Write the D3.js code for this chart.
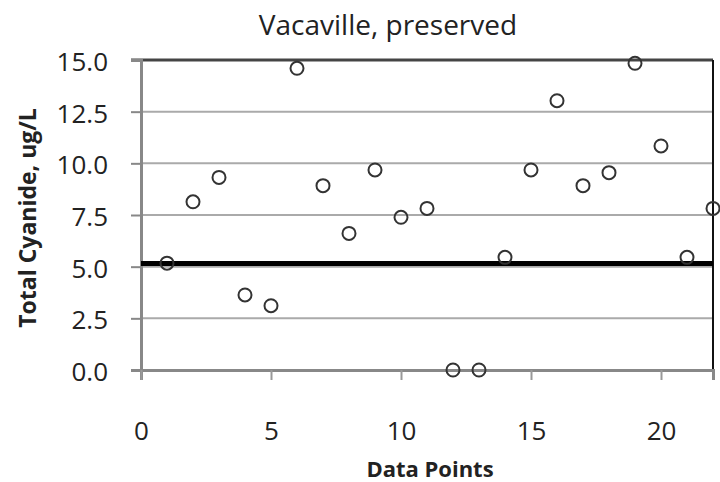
<!DOCTYPE html>
<html lang="en">
<head>
<meta charset="UTF-8">
<title>Vacaville, preserved</title>
<script src="https://d3js.org/d3.v7.min.js"></script>
<style>
  body { margin: 0; background: #fff; }
  text { font-family: "Open Sans", sans-serif; fill: #222; }
</style>
</head>
<body>
<div id="chart"></div>
<script>
// data
const dataPoints = [1, 2, 3, 4, 5, 6, 7, 8, 9, 10, 11, 12, 13, 14, 15, 16, 17, 18, 19, 20, 21, 22];
const cyanide = [5.17, 8.14, 9.32, 3.63, 3.11, 14.6, 8.92, 6.61, 9.68, 7.39, 7.82, 0, 0, 5.45, 9.68, 13.03, 8.92, 9.55, 14.84, 10.84, 5.45, 7.82];
const limitValue = 5.15;
const xTicks = [0, 5, 10, 15, 20];
const yTicks = [0, 2.5, 5, 7.5, 10, 12.5, 15];

const width = 720, height = 482;
const margin = {top: 60, right: 7, bottom: 112, left: 141};

const svg = d3.select('#chart').append('svg')
    .attr('width', width)
    .attr('height', height);

const x = d3.scaleLinear().domain([0, 22]).range([margin.left, width - margin.right]);
const y = d3.scaleLinear().domain([0, 15]).range([height - margin.bottom, margin.top]);

// gridlines
svg.append('g')
    .selectAll('line')
    .data(yTicks.filter(d => d > 0 && d < 15))
    .enter().append('line')
    .attr('x1', x(0)).attr('x2', x(22))
    .attr('y1', d => y(d)).attr('y2', d => y(d))
    .attr('stroke', '#aaa')
    .attr('stroke-width', 2);

// top and right border
svg.append('line')
    .attr('x1', x(0) - 10).attr('x2', x(22))
    .attr('y1', y(15)).attr('y2', y(15))
    .attr('stroke', '#444').attr('stroke-width', 3);
svg.append('line')
    .attr('x1', x(22)).attr('x2', x(22))
    .attr('y1', y(15)).attr('y2', y(0))
    .attr('stroke', '#111').attr('stroke-width', 2);

// y axis
const yAxis = svg.append('g')
    .attr('transform', `translate(${x(0)},0)`)
    .call(d3.axisLeft(y).tickValues(yTicks).tickFormat(d3.format('.1f')).tickSize(10).tickPadding(23));
yAxis.select('.domain').attr('stroke', '#888').attr('stroke-width', 3);
yAxis.selectAll('.tick line').attr('stroke', '#888').attr('stroke-width', 2);
yAxis.selectAll('.tick text')
    .attr('font-size', '26px')
    .attr('font-family', '"Open Sans", sans-serif')
    .attr('fill', '#222')
    .attr('dy', '0.4em');

// x axis
const xAxis = svg.append('g')
    .attr('transform', `translate(0,${y(0)})`)
    .call(d3.axisBottom(x).tickValues(xTicks).tickSize(10).tickPadding(42));
xAxis.select('.domain').attr('stroke', '#888').attr('stroke-width', 3);
xAxis.selectAll('.tick line').attr('stroke', '#999').attr('stroke-width', 2);
xAxis.selectAll('.tick text')
    .attr('font-size', '26px')
    .attr('font-family', '"Open Sans", sans-serif')
    .attr('fill', '#222');

// limit line
svg.append('line')
    .attr('x1', x(0)).attr('x2', x(22))
    .attr('y1', y(limitValue)).attr('y2', y(limitValue))
    .attr('stroke', '#000')
    .attr('stroke-width', 5);

// points
svg.append('g')
    .selectAll('circle')
    .data(dataPoints.map((d, i) => ({x: d, y: cyanide[i]})))
    .enter().append('circle')
    .attr('cx', d => x(d.x))
    .attr('cy', d => y(d.y))
    .attr('r', 6.5)
    .attr('fill', 'none')
    .attr('stroke', '#333')
    .attr('stroke-width', 2);

// title
svg.append('text')
    .attr('x', 388).attr('y', 35)
    .attr('text-anchor', 'middle')
    .attr('font-size', '28px')
    .attr('fill', '#111')
    .text('Vacaville, preserved');

// axis titles
svg.append('text')
    .attr('x', 430).attr('y', 477)
    .attr('text-anchor', 'middle')
    .attr('font-size', '22px')
    .attr('font-weight', 'bold')
    .text('Data Points');

svg.append('text')
    .attr('transform', 'translate(36,218) rotate(-90)')
    .attr('text-anchor', 'middle')
    .attr('font-size', '23px')
    .attr('font-weight', 'bold')
    .text('Total Cyanide, ug/L');
</script>
</body>
</html>
